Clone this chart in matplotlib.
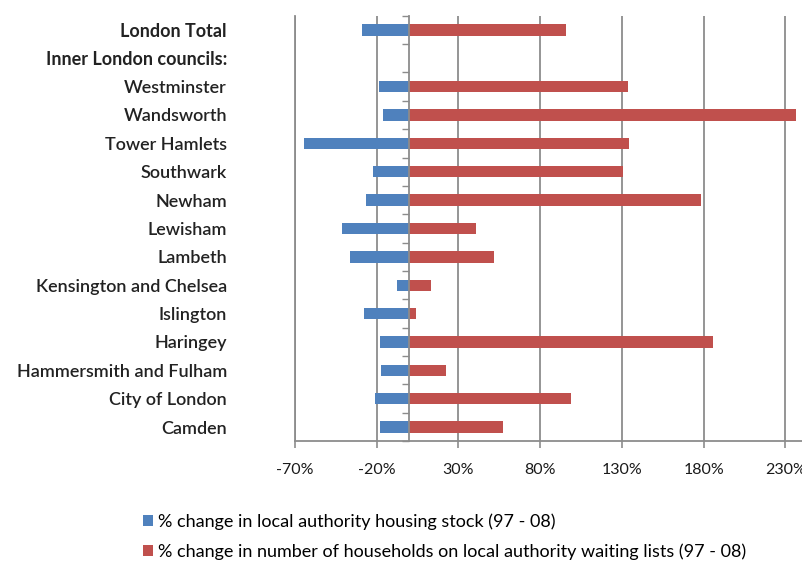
import matplotlib.pyplot as plt
import numpy as np

# categories top to bottom
councils = ['London Total', 'Inner London councils:', 'Westminster', 'Wandsworth',
            'Tower Hamlets', 'Southwark', 'Newham', 'Lewisham', 'Lambeth',
            'Kensington and Chelsea', 'Islington', 'Haringey',
            'Hammersmith and Fulham', 'City of London', 'Camden']

# % change in LA housing stock (97-08), None = no bar
stock = [-29, None, -18.5, -16, -64.5, -22, -26.5, -41.5, -36.5,
         -7.5, -28, -18, -17.5, -21, -18]
# % change in households on waiting lists (97-08)
waiting = [95.5, None, 133.5, 236.5, 134.5, 130.5, 178.5, 40.5, 51.5,
           13.5, 4, 185.5, 22.5, 99, 57.5]

xticks = [-70, -20, 30, 80, 130, 180, 230]

blue = '#4F81BD'
red = '#C0504D'
grid_c = '#8c8c8c'

plt.rcParams['font.family'] = ['Lato', 'DejaVu Sans']

fig = plt.figure(figsize=(8.03, 5.61), dpi=100)
ax = fig.add_axes([0.3674, 0.2135, 0.6326, 0.7585])

y = np.arange(len(councils))
s = np.array([np.nan if v is None else v for v in stock])
w = np.array([np.nan if v is None else v for v in waiting])

ax.barh(y, s, height=0.4, color=blue, zorder=3,
        label='% change in local authority housing stock (97 - 08)')
ax.barh(y, w, height=0.4, color=red, zorder=3,
        label='% change in number of households on local authority waiting lists (97 - 08)')

ax.set_xlim(-70, 240.8)
ax.set_ylim(len(councils) - 0.5, -0.5)
ax.set_xticks(xticks)
ax.set_xticklabels([f'{t}%' for t in xticks], fontsize=11.5, color='#1a1a1a')
ax.grid(axis='x', color=grid_c, linewidth=1.3, zorder=0)

ax.set_yticks(y)
ax.set_yticklabels(councils, fontsize=13, color='#222222')
for i, lab in enumerate(ax.get_yticklabels()):
    lab.set_fontweight('bold' if i < 2 else 'semibold')
ax.tick_params(axis='y', length=0, pad=49)
ax.tick_params(axis='x', length=5, color=grid_c, width=1.2, pad=11)

for side in ['top', 'right']:
    ax.spines[side].set_visible(False)
ax.spines['left'].set_color(grid_c)
ax.spines['left'].set_linewidth(1.3)
ax.spines['bottom'].set_color(grid_c)
ax.spines['bottom'].set_linewidth(1.3)

# category axis drawn at 0%
zero_frac = (0 + 70) / (240.8 + 70)
sec = ax.secondary_yaxis(zero_frac)
sec.set_yticks(np.arange(len(councils) + 1) - 0.5)
sec.set_yticklabels([])
sec.tick_params(length=5, color=grid_c, width=1.0)
sec.spines['left'].set_color(grid_c)
sec.spines['left'].set_linewidth(1.3)
sec.set_zorder(4)

fig.legend(loc='upper left', bbox_to_anchor=(143 / 803, 1 - 513 / 561),
           bbox_transform=fig.transFigure, frameon=False, fontsize=13,
           handlelength=0.55, handleheight=0.55, handletextpad=0.3,
           labelspacing=0.75, borderpad=0, borderaxespad=0)

fig.savefig('out.png', dpi=100)
